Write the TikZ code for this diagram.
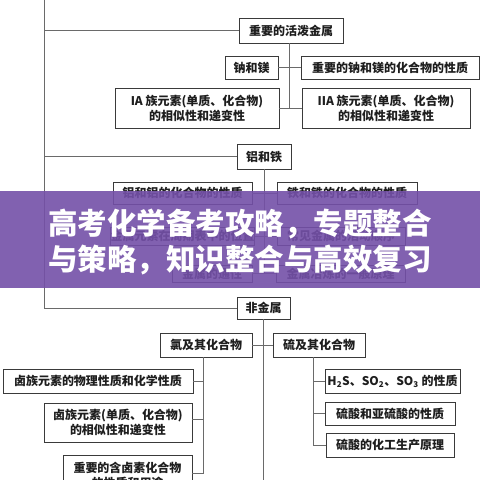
\documentclass[tikz,border=0pt]{standalone}
\usepackage{fontspec}
\setmainfont{Noto Sans CJK SC}
\definecolor{boxline}{HTML}{3A3A3A}
\definecolor{conn}{HTML}{6A6A6A}
\definecolor{txt}{HTML}{1E1E1E}
\definecolor{banner}{RGB}{116,80,168}
\tikzset{
  box/.style={draw=boxline, line width=0.9pt, rectangle, inner sep=0pt, text=txt,
    font=\fontsize{12}{15}\selectfont\bfseries, align=center, fill=white},
  conn/.style={draw=conn, line width=0.9pt},
  bannertext/.style={text=white, font=\fontsize{29.5}{34}\selectfont\bfseries, inner sep=0pt}
}
\begin{document}
\begin{tikzpicture}[x=1pt,y=-1pt]
\useasboundingbox (0,0) rectangle (480,480);
\clip (0,0) rectangle (480,480);
\fill[white] (0,0) rectangle (480,480);

% top section
\node[box, minimum width=104pt, minimum height=25pt] (act) at (291,30.5) {重要的活泼金属};
\node[box, minimum width=53pt, minimum height=23pt] (namg) at (251.5,67.5) {钠和镁};
\node[box, minimum width=178pt, minimum height=23pt] (namgc) at (390,67.5) {重要的钠和镁的化合物的性质};
\node[box, minimum width=164pt, minimum height=40pt] (ia) at (197,108) {IA 族元素(单质、化合物)\\的相似性和递变性};
\node[box, minimum width=168pt, minimum height=40pt] (iia) at (386,108) {IIA 族元素(单质、化合物)\\的相似性和递变性};

% middle section
\node[box, minimum width=54pt, minimum height=25pt] (alfe) at (264,156.5) {铝和铁};
\node[box, minimum width=139pt, minimum height=22pt] (al) at (182.5,193) {铝和铝的化合物的性质};
\node[box, minimum width=140pt, minimum height=22pt] (fe) at (347,193) {铁和铁的化合物的性质};
\node[box, minimum width=139pt, minimum height=18pt] (pos) at (182.5,236) {金属元素在周期表中的位置};
\node[box, minimum width=128pt, minimum height=18pt] (order) at (341,236) {常见金属的活动顺序};
\node[box, minimum width=80pt, minimum height=17pt] (gen) at (212,273.5) {金属的通性};
\node[box, minimum width=129pt, minimum height=17pt] (smelt) at (340.5,273.5) {金属冶炼的一般原理};

% bottom section
\node[box, minimum width=53pt, minimum height=22pt] (nonm) at (263.5,308) {非金属};
\node[box, minimum width=92pt, minimum height=24pt] (cl) at (206,345) {氯及其化合物};
\node[box, minimum width=92pt, minimum height=24pt] (s) at (319,345) {硫及其化合物};
\node[box, minimum width=190pt, minimum height=24pt] (hal1) at (98,381) {卤族元素的物理性质和化学性质};
\node[box, minimum width=148pt, minimum height=39pt] (hal2) at (118,422.5) {卤族元素(单质、化合物)\\的相似性和递变性};
\node[box, minimum width=129pt, minimum height=40pt] (hal3) at (127.5,475) {重要的含卤素化合物\\的性质和用途};
\node[box, minimum width=135pt, minimum height=24pt] (h2s) at (392.5,381) {H\textsubscript{2}S、SO\textsubscript{2}、SO\textsubscript{3} 的性质};
\node[box, minimum width=130pt, minimum height=23pt] (acid) at (390,413.5) {硫酸和亚硫酸的性质};
\node[box, minimum width=128pt, minimum height=24pt] (prod) at (390,445) {硫酸的化工生产原理};

% spine
\coordinate (sp0) at (44,0);
\coordinate (sp1) at (44,308);
\draw[conn] (sp0) -- (sp1) -- (nonm.west);
\draw[conn] (44,30.5) -- (act.west);
\draw[conn] (44,156.5) -- (alfe.west);

% top connectors
\coordinate (t1) at (289,108);
\draw[conn] (act.south -| t1) -- (t1);
\draw[conn] (namg.east) -- (namgc.west);
\draw[conn] (ia.east) -- (iia.west);

% middle connectors
\coordinate (t2) at (264,273.5);
\draw[conn] (alfe.south) -- (t2);
\draw[conn] (al.east) -- (fe.west);
\draw[conn] (pos.east) -- (order.west);
\draw[conn] (gen.east) -- (smelt.west);

% bottom connectors
\coordinate (t3) at (263.5,480);
\draw[conn] (nonm.south) -- (t3);
\draw[conn] (cl.east) -- (s.west);
\coordinate (l1) at (203,473);
\draw[conn] (cl.south -| l1) -- (l1) -- (hal3.east |- l1);
\draw[conn] (l1 |- hal1.east) -- (hal1.east);
\draw[conn] (203,419) -- (hal2.east |- 0,419);
\coordinate (r1) at (313,445);
\draw[conn] (s.south -| r1) -- (r1) -- (prod.west);
\draw[conn] (r1 |- h2s.west) -- (h2s.west);
\draw[conn] (r1 |- acid.west) -- (acid.west);

% banner overlay
\fill[banner, fill opacity=0.9] (0,191) rectangle (480,288);
\node[bannertext] (b1) at (240,224) {高考化学备考攻略，专题整合};
\node[bannertext] (b2) at (240,260) {与策略，知识整合与高效复习};
\end{tikzpicture}
\end{document}
